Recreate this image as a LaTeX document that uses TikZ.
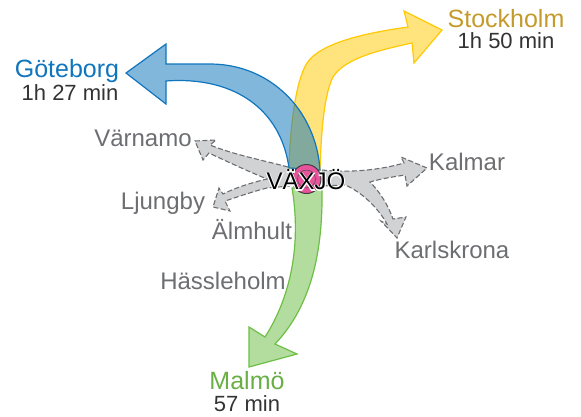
\documentclass[tikz,border=0pt]{standalone}
\usepackage{fontspec}
\setmainfont{Liberation Sans}
\definecolor{goteblue}{RGB}{15, 117, 188}
\definecolor{stockyellow}{RGB}{255, 201, 5}
\definecolor{stocktext}{RGB}{196, 154, 42}
\definecolor{malmogreen}{RGB}{109, 190, 69}
\definecolor{malmotext}{RGB}{104, 175, 70}
\definecolor{smallgray}{RGB}{208, 210, 211}
\definecolor{labelgray}{RGB}{109, 110, 113}
\definecolor{timedark}{RGB}{51, 51, 51}
\definecolor{hubpink}{RGB}{232, 84, 155}
% white outline behind a word
\newcommand{\halotext}[1]{\rlap{\special{pdf:code 1 Tr 1.8 w 1 1 1 RG}#1\special{pdf:code 0 Tr}}#1}

\begin{document}
\begin{tikzpicture}[x=1pt, y=-1pt,
    mainroute/.style={draw=#1, fill=#1, fill opacity=0.52, line width=1.2pt, line join=miter},
    smallroute/.style={draw=labelgray, fill=smallgray, line width=1.1pt, dash pattern=on 5pt off 2.5pt},
    city/.style={font=\fontsize{25}{25}\selectfont, text=#1, inner sep=0pt},
    smallcity/.style={font=\fontsize{24}{24}\selectfont, text=labelgray, inner sep=0pt},
    traveltime/.style={font=\fontsize{22}{22}\selectfont, text=timedark, inner sep=0pt}]
  \useasboundingbox (0, 0) rectangle (581, 416);

  % small routes
  \draw[smallroute] (288, 167) .. controls (262, 160) and (235, 155) .. (210, 145)
    -- (216, 140) -- (195, 141) -- (203, 160) -- (209, 153)
    .. controls (230, 163) and (250, 172) .. (267, 179)
    .. controls (250, 183) and (235, 188) .. (223, 194)
    -- (219, 188) -- (213, 207) -- (230, 211) -- (225, 201)
    .. controls (240, 196) and (255, 191) .. (267, 188)
    -- (290, 186);
  \draw[smallroute] (322, 170) .. controls (350, 173) and (380, 170) .. (404, 163)
    -- (401, 157) -- (427, 168) -- (407, 186) -- (405, 175)
    .. controls (392, 177) and (380, 179) .. (370, 182)
    .. controls (380, 192) and (388, 205) .. (393, 219)
    -- (406, 217) -- (397, 238) -- (381, 221) -- (387, 224)
    .. controls (378, 208) and (362, 192) .. (345, 185)
    -- (322, 186);

  % main routes
  \draw[mainroute=stockyellow] (289, 168) .. controls (290, 130) and (295, 82) .. (307, 63)
    .. controls (320, 43) and (365, 33) .. (408, 27)
    -- (404, 11) -- (442, 30) -- (414, 63) -- (412, 43)
    .. controls (380, 50) and (345, 58) .. (333, 77)
    .. controls (323, 97) and (321, 140) .. (320, 170) -- cycle;
  \draw[mainroute=goteblue] (320, 170) .. controls (316, 110) and (270, 64) .. (210, 64)
    -- (166, 64) -- (166, 44) -- (126, 73) -- (166, 104) -- (166, 81)
    .. controls (235, 76) and (281, 110) .. (289, 168) -- cycle;
  \draw[mainroute=malmogreen] (292, 188) .. controls (300, 235) and (295, 290) .. (265, 337)
    -- (249, 327) -- (249, 367) -- (297, 354) -- (275, 344)
    .. controls (312, 305) and (323, 250) .. (322, 188) -- cycle;

  % hub
  \node[circle, draw=black!75, fill=hubpink, line width=1pt, minimum size=29pt, inner sep=0pt] (vaxjohub) at (306.5, 179) {};
  \node[circle, draw=black!70, line width=0.5pt, minimum size=18pt, inner sep=0pt] (vaxjoring) at (vaxjohub) {};
  \node[inner sep=0pt, font=\fontsize{24}{24}\selectfont] (vaxjo) at (306, 180) {\halotext{VÄXJÖ}};

  % labels
  \node[city=goteblue] (goteborg) at (67, 71) {Göteborg};
  \node[traveltime] (gotetime) at (70, 93) {1h 27 min};
  \node[city=stocktext] (stockholm) at (506, 19) {Stockholm};
  \node[traveltime] (stocktime) at (506, 41) {1h 50 min};
  \node[city=malmotext] (malmo) at (247, 381) {Malmö};
  \node[traveltime] (malmotime) at (247, 404) {57 min};
  \node[smallcity] (varnamo) at (143, 138) {Värnamo};
  \node[smallcity] (kalmar) at (467, 162) {Kalmar};
  \node[smallcity] (ljungby) at (163, 203) {Ljungby};
  \node[smallcity] (almhult) at (252, 230) {Älmhult};
  \node[smallcity] (hassleholm) at (223, 281) {Hässleholm};
  \node[smallcity] (karlskrona) at (452, 250) {Karlskrona};
\end{tikzpicture}
\end{document}
